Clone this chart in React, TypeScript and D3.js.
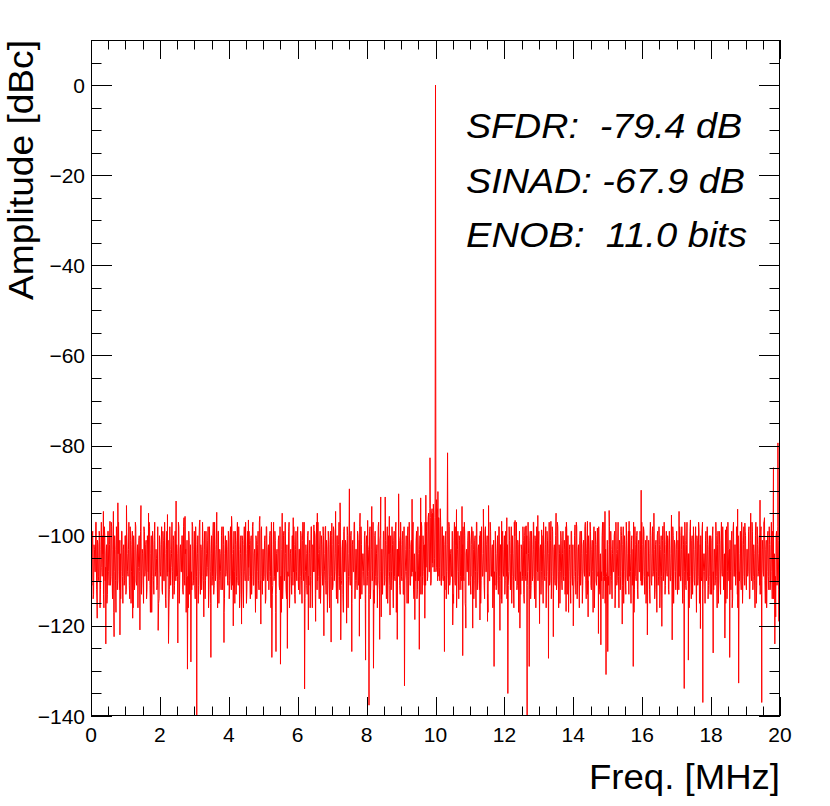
import React from "react";
import * as d3 from "d3";

// ---------- data ----------
const xTicks = [0, 2, 4, 6, 8, 10, 12, 14, 16, 18, 20];
const yTicks = [0, -20, -40, -60, -80, -100, -120, -140];
const noiseStep = 0.025; // MHz between samples of each noise-floor set
const noiseOffsetB = 0.0125; // second set sits half a step later

// noise floor, set A (f = i * 0.025 MHz), one row per MHz
const noiseA: number[][] = [
  [-101,-111,-99,-113,-103,-108,-98,-115,-102,-110,-100,-112,-97,-109,-104,-116,-100,-107,-102,-113,-99,-111,-105,-109,-98,-114,-101,-108,-103,-117,-100,-110,-97,-112,-104,-108,-99,-115,-102,-110],
  [-100,-112,-104,-109,-97,-114,-101,-108,-99,-116,-103,-110,-98,-111,-102,-107,-100,-113,-96,-109,-104,-115,-99,-108,-101,-112,-103,-110,-98,-117,-100,-109,-102,-113,-97,-108,-105,-111,-99,-114],
  [-102,-109,-98,-113,-101,-110,-104,-116,-99,-108,-100,-112,-103,-107,-97,-114,-101,-111,-99,-109,-104,-115,-98,-110,-102,-108,-100,-113,-96,-111,-103,-109,-99,-116,-101,-108,-104,-112,-98,-110],
  [-99,-114,-102,-108,-100,-111,-97,-113,-103,-109,-101,-118,-99,-110,-104,-107,-98,-112,-102,-115,-100,-109,-97,-111,-103,-108,-101,-116,-99,-110,-104,-112,-98,-109,-102,-114,-100,-108,-103,-111],
  [-101,-110,-98,-112,-104,-108,-99,-115,-102,-109,-97,-111,-103,-113,-100,-108,-101,-116,-98,-110,-104,-112,-99,-107,-102,-114,-100,-109,-97,-111,-103,-117,-101,-108,-99,-112,-104,-110,-98,-113],
  [-103,-109,-100,-114,-98,-110,-102,-108,-99,-116,-104,-111,-97,-109,-101,-113,-103,-108,-100,-112,-98,-117,-102,-110,-99,-108,-104,-114,-101,-109,-97,-111,-103,-113,-100,-108,-102,-115,-99,-110],
  [-98,-112,-103,-109,-100,-115,-97,-110,-102,-108,-104,-113,-99,-111,-101,-109,-98,-116,-103,-108,-100,-112,-97,-110,-104,-114,-99,-109,-102,-111,-100,-108,-98,-113,-103,-110,-101,-116,-99,-109],
  [-102,-111,-99,-108,-104,-114,-100,-109,-97,-112,-103,-110,-101,-117,-98,-108,-102,-113,-100,-109,-104,-111,-99,-115,-101,-108,-97,-110,-103,-112,-100,-109,-98,-114,-102,-108,-104,-111,-99,-113],
  [-100,-109,-103,-113,-98,-110,-101,-108,-104,-115,-99,-111,-102,-109,-97,-112,-100,-118,-103,-108,-99,-110,-101,-114,-98,-109,-104,-111,-100,-108,-102,-116,-99,-110,-97,-112,-103,-109,-101,-113],
  [-102,-110,-99,-113,-104,-108,-100,-115,-98,-109,-103,-111,-101,-108,-97,-114,-102,-110,-99,-112,-104,-108,-100,-113,-98,-109,-102,-111,-97,-107,-97,-109,-95,-108,-96,-110,-94,-107,-95,-105],
  [-96,-107,-94,-109,-96,-110,-97,-111,-98,-110,-102,-112,-99,-108,-101,-113,-98,-110,-103,-109,-100,-115,-97,-111,-102,-108,-99,-114,-101,-109,-104,-112,-98,-110,-100,-116,-103,-108,-99,-111],
  [-101,-113,-98,-109,-103,-110,-100,-116,-97,-108,-102,-112,-99,-110,-104,-109,-101,-114,-98,-108,-100,-117,-103,-110,-99,-109,-102,-112,-97,-111,-104,-108,-100,-113,-98,-110,-102,-115,-99,-109],
  [-100,-110,-103,-114,-99,-108,-101,-112,-98,-109,-104,-116,-100,-110,-97,-111,-102,-108,-99,-113,-103,-109,-101,-115,-98,-110,-100,-108,-104,-112,-99,-111,-102,-109,-97,-114,-101,-108,-103,-110],
  [-99,-112,-102,-108,-100,-115,-104,-110,-98,-109,-101,-113,-97,-110,-103,-108,-99,-114,-102,-111,-100,-109,-98,-116,-104,-108,-101,-112,-99,-110,-103,-109,-97,-113,-100,-108,-102,-115,-99,-111],
  [-103,-109,-100,-113,-98,-110,-102,-116,-99,-108,-104,-111,-101,-109,-97,-114,-100,-110,-103,-108,-99,-112,-101,-117,-98,-109,-102,-111,-100,-108,-104,-113,-99,-110,-97,-109,-103,-115,-101,-108],
  [-100,-111,-98,-109,-103,-114,-101,-108,-99,-112,-104,-110,-97,-116,-102,-109,-100,-111,-98,-108,-103,-113,-101,-110,-99,-109,-104,-115,-100,-108,-97,-112,-102,-110,-99,-114,-101,-108,-103,-111],
  [-102,-108,-99,-113,-101,-110,-97,-109,-104,-115,-100,-111,-98,-108,-103,-112,-101,-117,-99,-109,-102,-110,-100,-114,-97,-108,-104,-111,-99,-109,-101,-113,-103,-110,-98,-116,-100,-108,-102,-112],
  [-99,-113,-103,-109,-100,-110,-98,-115,-102,-108,-101,-112,-97,-110,-104,-109,-99,-114,-100,-108,-103,-111,-98,-117,-101,-109,-102,-112,-100,-110,-97,-108,-104,-115,-99,-109,-102,-111,-100,-113],
  [-101,-109,-98,-112,-103,-110,-100,-116,-99,-108,-102,-113,-97,-109,-104,-111,-100,-115,-98,-108,-103,-110,-101,-112,-99,-114,-97,-109,-102,-108,-100,-116,-103,-110,-99,-112,-101,-109,-98,-111],
  [-100,-112,-103,-108,-98,-114,-101,-110,-99,-109,-104,-116,-97,-111,-102,-108,-100,-113,-98,-110,-103,-109,-96,-115,-101,-108,-99,-112,-102,-110,-97,-114,-100,-109,-103,-118,-99,-110,-101,-108],
  [-106],
];

// noise floor, set B (f = 0.0125 + i * 0.025 MHz), one row per MHz
const noiseB: number[][] = [
  [-110,-100,-114,-102,-108,-97,-112,-101,-109,-99,-116,-103,-107,-100,-113,-98,-110,-104,-115,-99,-108,-102,-111,-97,-109,-103,-117,-100,-110,-98,-112,-104,-108,-101,-114,-99,-109,-103,-111,-100],
  [-113,-99,-108,-103,-111,-98,-115,-102,-109,-100,-112,-97,-110,-104,-116,-101,-108,-99,-113,-103,-110,-98,-109,-102,-114,-100,-108,-97,-111,-104,-117,-99,-110,-101,-109,-103,-112,-98,-115,-100],
  [-108,-102,-112,-99,-110,-97,-114,-103,-109,-101,-116,-98,-111,-104,-108,-100,-113,-99,-110,-102,-109,-97,-115,-103,-108,-100,-112,-98,-110,-104,-117,-101,-109,-99,-113,-102,-108,-97,-111,-103],
  [-111,-98,-109,-104,-115,-100,-108,-102,-112,-97,-110,-103,-114,-99,-109,-101,-116,-98,-108,-104,-111,-100,-113,-97,-110,-102,-109,-99,-115,-103,-108,-100,-112,-98,-117,-104,-109,-101,-110,-99],
  [-114,-100,-109,-97,-111,-103,-108,-99,-113,-101,-110,-98,-116,-104,-109,-100,-112,-102,-108,-97,-115,-103,-110,-99,-109,-101,-113,-98,-111,-104,-108,-100,-114,-102,-110,-97,-112,-99,-109,-103],
  [-110,-101,-115,-98,-108,-103,-112,-100,-109,-97,-113,-102,-110,-99,-117,-104,-108,-101,-111,-98,-109,-103,-114,-100,-110,-97,-112,-102,-108,-99,-116,-104,-109,-100,-111,-98,-113,-103,-108,-101],
  [-109,-103,-113,-99,-110,-101,-108,-97,-114,-102,-111,-100,-109,-104,-116,-98,-110,-102,-108,-99,-113,-101,-112,-97,-109,-103,-115,-100,-108,-98,-111,-104,-110,-101,-117,-99,-109,-102,-112,-100],
  [-112,-98,-110,-104,-108,-100,-115,-102,-109,-97,-111,-103,-113,-99,-108,-101,-110,-98,-116,-104,-109,-100,-112,-102,-108,-97,-114,-103,-110,-99,-111,-101,-109,-98,-113,-104,-108,-100,-115,-102],
  [-111,-102,-108,-99,-114,-103,-110,-97,-112,-100,-109,-104,-116,-98,-110,-101,-108,-103,-113,-99,-111,-97,-109,-102,-115,-100,-108,-104,-112,-98,-110,-101,-109,-99,-117,-103,-108,-100,-111,-97],
  [-109,-101,-113,-98,-110,-103,-108,-100,-115,-97,-111,-102,-109,-99,-112,-104,-108,-101,-114,-98,-110,-103,-109,-97,-113,-100,-108,-102,-111,-99,-110,-96,-108,-94,-111,-95,-106,-93,-108,-96],
  [-108,-95,-110,-96,-107,-94,-111,-98,-109,-100,-109,-100,-114,-102,-108,-97,-111,-104,-109,-99,-113,-101,-110,-98,-116,-103,-108,-100,-112,-99,-110,-102,-109,-97,-115,-104,-108,-101,-111,-99],
  [-110,-102,-109,-99,-114,-101,-108,-97,-112,-103,-110,-100,-115,-98,-109,-104,-111,-99,-108,-102,-113,-100,-110,-97,-109,-103,-116,-101,-108,-99,-112,-104,-110,-98,-109,-102,-114,-100,-108,-103],
  [-113,-99,-109,-102,-111,-98,-108,-104,-115,-100,-110,-97,-109,-103,-112,-101,-117,-99,-108,-102,-110,-98,-113,-100,-109,-104,-111,-97,-108,-101,-114,-99,-110,-103,-109,-100,-116,-98,-108,-102],
  [-108,-103,-113,-100,-110,-97,-109,-102,-116,-99,-108,-104,-111,-101,-114,-98,-109,-103,-110,-100,-112,-97,-108,-102,-115,-99,-110,-104,-109,-101,-113,-98,-108,-100,-117,-103,-110,-99,-109,-102],
  [-112,-100,-108,-97,-114,-103,-109,-101,-111,-99,-115,-102,-108,-98,-110,-104,-113,-100,-109,-97,-111,-103,-108,-101,-116,-99,-110,-102,-109,-98,-112,-104,-108,-100,-114,-97,-110,-103,-109,-101],
  [-109,-102,-113,-99,-110,-104,-108,-100,-116,-97,-111,-103,-109,-101,-112,-98,-108,-102,-115,-100,-110,-97,-109,-104,-113,-99,-108,-101,-111,-103,-117,-98,-109,-100,-112,-102,-108,-99,-110,-97],
  [-111,-98,-109,-103,-115,-100,-108,-101,-112,-97,-110,-104,-109,-99,-114,-102,-108,-100,-111,-98,-116,-103,-109,-101,-110,-97,-113,-102,-108,-100,-112,-99,-110,-104,-109,-98,-115,-101,-108,-103],
  [-108,-101,-112,-98,-110,-103,-109,-100,-114,-97,-111,-102,-108,-104,-116,-99,-109,-101,-113,-98,-110,-103,-108,-100,-111,-97,-115,-102,-109,-99,-112,-104,-108,-101,-110,-98,-114,-103,-109,-100],
  [-113,-100,-108,-103,-111,-97,-109,-102,-115,-99,-110,-101,-108,-98,-112,-104,-109,-100,-114,-97,-110,-103,-108,-101,-116,-99,-109,-102,-111,-98,-113,-100,-108,-104,-110,-97,-115,-102,-109,-99],
  [-110,-103,-109,-99,-114,-101,-108,-97,-112,-102,-110,-100,-115,-98,-109,-104,-111,-99,-113,-101,-108,-97,-110,-103,-116,-100,-109,-98,-112,-102,-108,-99,-114,-104,-109,-100,-111,-98,-112,-105],
];

// carrier, spurs and isolated spikes/dips
const spikeFreq = [
  0.005, 0.15, 0.18, 0.36, 0.43, 0.55, 0.65, 0.67, 0.78, 0.84, 1.03, 1.21, 1.42, 1.45, 1.67, 1.95,
  2.22, 2.25, 2.47, 2.52, 2.73, 2.8, 2.9, 3.07, 3.16, 3.48, 3.65, 3.86, 4.08, 4.13, 4.37, 4.57,
  4.9, 4.93, 5.25, 5.37, 5.5, 5.55, 5.7, 5.87, 6.16, 6.2, 6.31, 6.47, 6.52, 6.57, 6.76, 6.81,
  6.97, 6.99, 7.1, 7.23, 7.25, 7.42, 7.5, 7.57, 7.79, 7.81, 7.97, 8.03, 8.07, 8.15, 8.2, 8.38,
  8.41, 8.54, 8.66, 8.68, 8.89, 8.93, 9.1, 9.32, 9.4, 9.53, 9.57, 9.69, 9.72, 9.84, 9.92, 10.0,
  10.03, 10.07, 10.26, 10.35, 10.5, 10.61, 10.77, 10.79, 10.88, 11.06, 11.08, 11.29, 11.39, 11.51, 11.54, 11.7,
  11.87, 11.92, 12.07, 12.1, 12.31, 12.45, 12.63, 12.66, 12.72, 12.84, 12.97, 13.02, 13.08, 13.28, 13.35, 13.42,
  13.5, 13.79, 13.81, 14.0, 14.05, 14.41, 14.43, 14.7, 14.73, 14.8, 14.92, 14.95, 15.0, 15.04, 15.38, 15.42,
  15.62, 15.74, 15.97, 16.15, 16.23, 16.34, 16.57, 16.6, 16.85, 16.87, 17.07, 17.22, 17.34, 17.4, 17.65, 17.69,
  17.76, 18.06, 18.4, 18.42, 18.54, 18.77, 18.8, 18.98, 19.15, 19.42, 19.47, 19.53, 19.81, 19.85, 19.94, 19.97,
];
const spikeDb = [
  -123, -97, -118.3, -94.6, -124, -96.8, -94.6, -122.4, -92.7, -122, -93.3, -118.3, -120.9, -93.3, -95, -121,
  -95.3, -123.9, -92.3, -123.8, -95.7, -129.6, -128, -140, -96.5, -127, -94.8, -123.7, -95.7, -120, -119.6, -96.5,
  -95.7, -119.6, -127, -125.7, -128.5, -95, -125, -96, -98.7, -134, -120.9, -97.6, -119, -95, -122.2, -97.9,
  -123.6, -97.2, -94.6, -92.7, -123.1, -119.4, -89.6, -125.7, -122.3, -95, -127.6, -96.6, -137.6, -93.5, -129.4, -123,
  -91.4, -91.4, -95.7, -117.6, -123, -90.7, -133.3, -91.9, -118.6, -125.2, -91.6, -118.3, -91, -82.7, -95, 0,
  -92, -90.2, -125.7, -81.6, -119.8, -94.2, -93.5, -126.6, -120.5, -98.7, -120.5, -118.7, -94.1, -119, -93.3, -129,
  -121, -96.8, -96, -135, -96.6, -120.5, -97.8, -140, -129, -97, -95.5, -119.5, -98.7, -127.2, -96.8, -122.4,
  -95, -116.8, -98.7, -120, -97.6, -96.8, -118, -98.3, -121.7, -124.2, -94.6, -130.8, -125.7, -94.4, -99, -119.6,
  -96.8, -129, -89.9, -122, -99.4, -95, -120.1, -97.9, -95.4, -123.1, -94.6, -133.9, -127.6, -96.5, -98.7, -120.6,
  -137, -126, -122.7, -98.7, -127, -94.1, -132.7, -97.2, -95, -92.1, -137, -97, -84.9, -124, -79.4, -119,
];

const statLines = ["SFDR:  -79.4 dB", "SINAD: -67.9 dB", "ENOB:  11.0 bits"];
const statWidths = [276, 279, 281];

// ---------- layout ----------
const W = 830;
const H = 806;
const L = 91, R = 780, T = 40, B = 716;
const FONT = "'Liberation Sans', Arial, Helvetica, sans-serif";

export default function App() {
  const x = d3.scaleLinear().domain([0, 20]).range([L, R]);
  const y = d3.scaleLinear().domain([-140, 10]).range([B, T]);

  const setA: [number, number][] = noiseA
    .flat()
    .map((v, i) => [i * noiseStep, v] as [number, number]);
  const setB: [number, number][] = noiseB
    .flat()
    .map((v, i) => [noiseOffsetB + i * noiseStep, v] as [number, number]);
  const spikes: [number, number][] = spikeFreq.map((f, i) => [f, spikeDb[i]]);
  const pts = setA
    .concat(setB)
    .filter(([f]) => !spikeFreq.some((s) => Math.abs(s - f) < 1e-6))
    .concat(spikes)
    .sort((a, b) => a[0] - b[0]);

  const line = d3
    .line<[number, number]>()
    .x((d) => x(d[0]))
    .y((d) => y(d[1]));

  const xMinor = d3.range(0, 20.001, 0.5);
  const yMinor = d3.range(-140, 10.001, 5);

  return (
    <svg
      width={W}
      height={H}
      style={{ position: "absolute", left: 0, top: 0, background: "#fff" }}
    >
      <defs>
        <clipPath id="frame">
          <rect x={L} y={T} width={R - L} height={B - T} />
        </clipPath>
      </defs>
      <rect x={0} y={0} width={W} height={H} fill="#fff" />

      <path
        d={line(pts) || ""}
        fill="none"
        stroke="#ff0000"
        strokeWidth={1}
        clipPath="url(#frame)"
      />

      {/* ticks */}
      <g stroke="#000" strokeWidth={1}>
        {xMinor.map((v) => {
          const major = Math.abs(v / 2 - Math.round(v / 2)) < 1e-6;
          const len = major ? 19 : 9.5;
          const px = Math.round(x(v)) + 0.5;
          return (
            <g key={"x" + v}>
              <line x1={px} x2={px} y1={B} y2={B - len} />
              <line x1={px} x2={px} y1={T} y2={T + len} />
            </g>
          );
        })}
        {yMinor.map((v) => {
          const major = Math.abs(v / 20 - Math.round(v / 20)) < 1e-6;
          const len = major ? 21 : 10.5;
          const py = Math.round(y(v)) + 0.5;
          return (
            <g key={"y" + v}>
              <line x1={L} x2={L + len} y1={py} y2={py} />
              <line x1={R} x2={R - len} y1={py} y2={py} />
            </g>
          );
        })}
      </g>

      <rect
        x={L + 0.5}
        y={T + 0.5}
        width={R - L - 1}
        height={B - T - 1}
        fill="none"
        stroke="#000"
        strokeWidth={1}
      />

      {/* tick labels */}
      <g fontFamily={FONT} fontSize={21} fill="#000">
        {xTicks.map((v) => (
          <text key={"xl" + v} x={x(v)} y={741.5} textAnchor="middle">
            {v}
          </text>
        ))}
        {yTicks.map((v) => (
          <text key={"yl" + v} x={85} y={y(v) + 7.5} textAnchor="end">
            {v < 0 ? "\u2212" + Math.abs(v) : String(v)}
          </text>
        ))}
      </g>

      {/* axis titles */}
      <text
        x={R}
        y={789}
        textAnchor="end"
        fontFamily={FONT}
        fontSize={35}
        fill="#000"
        textLength={191}
        lengthAdjust="spacingAndGlyphs"
      >
        Freq. [MHz]
      </text>
      <text
        transform={`translate(33,${T}) rotate(-90)`}
        textAnchor="end"
        fontFamily={FONT}
        fontSize={35}
        fill="#000"
        textLength={260}
        lengthAdjust="spacingAndGlyphs"
      >
        Amplitude [dBc]
      </text>

      {/* statistics */}
      <g fontFamily={FONT} fontSize={35} fontStyle="italic" fill="#000">
        {statLines.map((s, i) => (
          <text
            key={s}
            x={466}
            y={138 + i * 54.5}
            textLength={statWidths[i]}
            lengthAdjust="spacingAndGlyphs"
            style={{ whiteSpace: "pre" }}
          >
            {s}
          </text>
        ))}
      </g>
    </svg>
  );
}
